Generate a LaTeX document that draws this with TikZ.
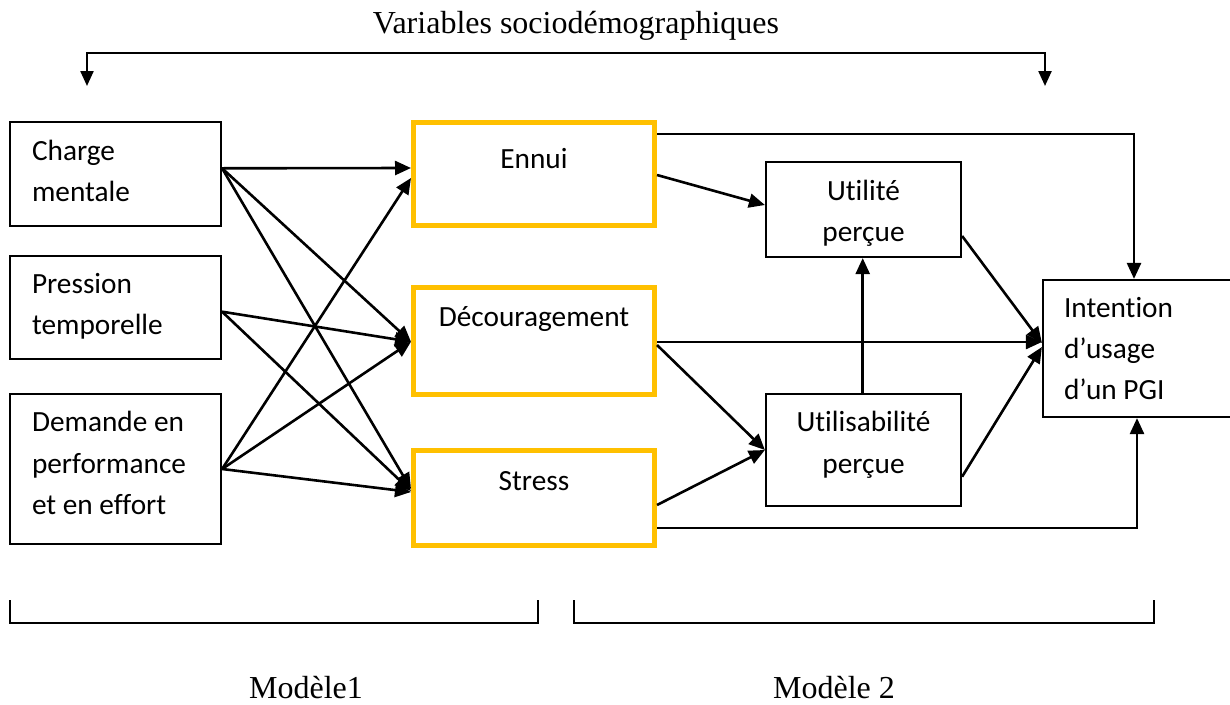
\documentclass[tikz,border=0pt]{standalone}
\usepackage{fontspec}
\newfontfamily\boxfont[Ligatures=NoCommon]{Carlito}
\newfontfamily\titlefont{Liberation Serif}
\usetikzlibrary{arrows.meta,calc}
\definecolor{gold}{HTML}{FFC000}
\tikzset{
  box/.style={draw=black, line width=2.2pt, inner xsep=0pt, inner ysep=0pt,
    font=\boxfont\fontsize{29.3}{41.3}\selectfont},
  lbox/.style={box, align=flush left},
  obox/.style={box, draw=gold, line width=5pt, align=flush center},
  cbox/.style={box, align=flush center},
  arr/.style={line width=2.6pt, -{Triangle[length=16pt,width=14pt]}},
  arr2/.style={line width=2.3pt, {Triangle[length=15pt,width=13pt]}-{Triangle[length=15pt,width=13pt]}},
  brk/.style={line width=1.7pt},
  ttl/.style={font=\titlefont\fontsize{32}{38}\selectfont, inner sep=0pt, anchor=base}
}
\begin{document}
\begin{tikzpicture}[x=1pt,y=-1pt]
\useasboundingbox[fill=white] (0,0) rectangle (1230,704);

% title
\node[ttl] (title) at (576,33.5) {Variables sociodémographiques};
\coordinate (tla) at (87,86);
\coordinate (tl) at (87,53);
\coordinate (tr) at (1045,53);
\coordinate (tra) at (1045,86);
\draw[arr2] (tla) -- (tl) -- (tr) -- (tra);

% left boxes
\node[lbox, minimum width=211pt, minimum height=104pt, text width=167pt,
  text height=14pt, text depth=42pt] (charge) at (115.5,174) {Charge\\mentale};
\node[lbox, minimum width=211pt, minimum height=103pt, text width=167pt,
  text height=14pt, text depth=42.4pt] (pression) at (115.5,307.5) {Pression\\temporelle};
\node[lbox, minimum width=211pt, minimum height=150pt, text width=167pt,
  text height=8pt, text depth=82.6pt] (demande) at (115.5,469) {Demande en\\performance\\et en effort};

% middle boxes
\node[obox, minimum width=241pt, minimum height=103.5pt, text width=230pt,
  text height=20pt, text depth=30.9pt] (ennui) at (534,173.75) {Ennui};
\node[obox, minimum width=241pt, minimum height=107.5pt, text width=230pt,
  text height=20pt, text depth=48pt] (decour) at (534,340.75) {Découragement};
\node[obox, minimum width=241pt, minimum height=95pt, text width=230pt,
  text height=20pt, text depth=36pt] (stress) at (534,498) {Stress};

% right boxes
\node[cbox, minimum width=195pt, minimum height=95pt, text width=190pt,
  text height=20pt, text depth=39pt] (utilite) at (863.5,209.5) {Utilité\\perçue};
\node[cbox, minimum width=195pt, minimum height=112pt, text width=190pt,
  text height=20pt, text depth=56.6pt] (utilis) at (863.5,450) {Utilisabilité\\perçue};
\node[lbox, minimum width=200pt, minimum height=137pt, text width=158pt,
  text height=20pt, text depth=82.4pt] (intention) at (1143,348.5) {Intention\\d’usage\\d’un PGI};

% left arrows
\draw[arr] ([yshift=5.7pt]charge.east) -- ([yshift=5.75pt]ennui.west);
\draw[arr] ([yshift=5.7pt]charge.east) -- ([yshift=-1pt]decour.west);
\draw[arr] ([yshift=5.7pt]charge.east) -- ([yshift=9pt]stress.west);
\draw[arr] ([yshift=-4.2pt]pression.east) -- ([yshift=-1pt]decour.west);
\draw[arr] ([yshift=-4.2pt]pression.east) -- ([yshift=7pt]stress.west);
\draw[arr] (demande.east) -- ([yshift=-4.25pt]ennui.west);
\draw[arr] (demande.east) -- ([yshift=-1pt]decour.west);
\draw[arr] (demande.east) -- ([yshift=6pt]stress.west);

% right arrows
\draw[arr] ([yshift=-1.25pt]ennui.east) -- ([yshift=4.5pt]utilite.west);
\draw[arr] ([yshift=39.75pt]ennui.east) -| ([xshift=-9pt]intention.north);
\draw[arr] ([yshift=-1.25pt]decour.east) coordinate (d1) -- (d1 -| intention.west);
\draw[arr] ([yshift=-4.25pt]decour.east) -- (utilis.west);
\draw[arr] ([yshift=-7pt]stress.east) -- (utilis.west);
\draw[arr] ([yshift=-30pt]stress.east) -| ([xshift=-6pt]intention.south);
\draw[arr] ([xshift=-0.8pt]utilis.north) -- ([xshift=-0.8pt]utilite.south);
\draw[arr] ([yshift=-26.5pt]utilite.east) -- ([yshift=5.5pt]intention.west);
\draw[arr] ([yshift=-26.7pt]utilis.east) -- ([yshift=1.5pt]intention.west);

% brackets
\coordinate (b1a) at (10,600);
\coordinate (b1b) at (10,623);
\coordinate (b1c) at (538,623);
\coordinate (b1d) at (538,600);
\draw[brk] (b1a) -- (b1b) -- (b1c) -- (b1d);
\coordinate (b2a) at (574,600);
\coordinate (b2b) at (574,623);
\coordinate (b2c) at (1154,623);
\coordinate (b2d) at (1154,600);
\draw[brk] (b2a) -- (b2b) -- (b2c) -- (b2d);

\node[ttl] (m1) at (306,698) {Modèle1};
\node[ttl] (m2) at (834,698) {Modèle 2};
\end{tikzpicture}
\end{document}
